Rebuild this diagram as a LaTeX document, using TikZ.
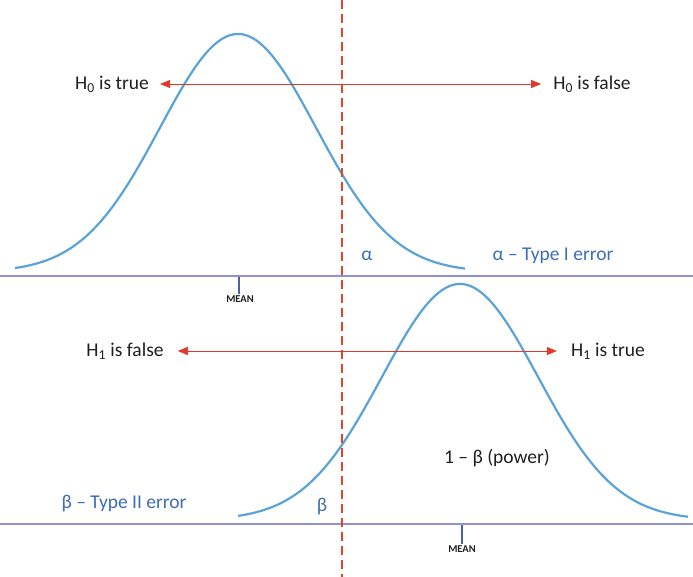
\documentclass[tikz,border=0pt]{standalone}
\usepackage{fontspec}
\setmainfont{Carlito}
\usetikzlibrary{arrows.meta}
\definecolor{curveblue}{HTML}{5BA3D6}
\definecolor{axisblue}{HTML}{8C92D2}
\definecolor{cutred}{HTML}{E0442A}
\definecolor{arrowred}{HTML}{E03A2E}
\definecolor{labelblue}{HTML}{3D6DB3}
\definecolor{meanblue}{HTML}{4A63A6}
\definecolor{txt}{HTML}{1F1F1F}

\begin{document}
\begin{tikzpicture}[x=1pt,y=-1pt,
    bell/.style={curveblue, line width=2.2pt},
    axis/.style={axisblue, line width=1.2pt},
    hyp/.style={txt, inner sep=0pt, font=\fontsize{19.5}{22}\selectfont},
    errlbl/.style={labelblue, inner sep=0pt, font=\fontsize{19.5}{22}\selectfont},
    meanlbl/.style={txt, inner sep=1pt, font=\fontsize{10.5}{12}\selectfont\bfseries},
    both/.style={arrowred, line width=0.9pt,
        {Triangle[length=10pt,width=8pt]}-{Triangle[length=10pt,width=8pt]}}]
    \useasboundingbox (0,0) rectangle (693,577);

    % baselines
    \draw[axis] (0,276) -- (693,276);
    \draw[axis] (0,524) -- (693,524);

    % the two distributions
    \draw[bell] plot[domain=15:465, samples=150]
        (\x, {272-238*exp(-0.5*((\x-238)/78)^2)});
    \draw[bell] plot[domain=238:688, samples=150]
        (\x, {520-236*exp(-0.5*((\x-460)/78)^2)});

    % means
    \node[meanlbl] (mean0) at (240,299) {MEAN};
    \node[meanlbl] (mean1) at (462,549) {MEAN};
    \coordinate (tick0) at (239,277);
    \coordinate (tick1) at (462,525);
    \draw[meanblue, line width=2pt] (tick0) -- (tick0 |- mean0.north);
    \draw[meanblue, line width=2pt] (tick1) -- (tick1 |- mean1.north);

    % critical value
    \coordinate (cuttop) at (342,0);
    \coordinate (cutbot) at (342,577);
    \draw[cutred, line width=2.6pt, dash pattern=on 9pt off 5pt] (cuttop) -- (cutbot);

    % hypotheses
    \node[hyp] (h0true) at (112,84) {H\textsubscript{0} is true};
    \node[hyp] (h0false) at (592,84) {H\textsubscript{0} is false};
    \draw[both, shorten <=11pt, shorten >=12pt] (h0true) -- (h0false);

    \node[hyp] (h1false) at (125,351) {H\textsubscript{1} is false};
    \node[hyp] (h1true) at (608,351) {H\textsubscript{1} is true};
    \draw[both, shorten <=14pt, shorten >=14pt] (h1false) -- (h1true);

    % errors
    \node[errlbl] (alpha) at (367,256) {α};
    \node[errlbl] (typeone) at (553,256) {α – Type I error};
    \node[errlbl] (beta) at (322,507) {β};
    \node[errlbl] (typetwo) at (124,504) {β – Type II error};
    \node[hyp] (power) at (497,458) {1 – β (power)};
\end{tikzpicture}
\end{document}
